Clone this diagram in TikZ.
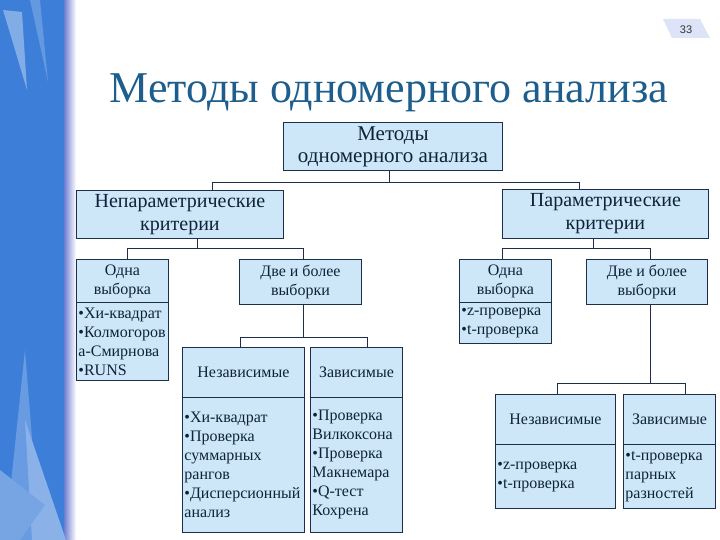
\documentclass[tikz,border=0pt]{standalone}
\usepackage{fontspec}
\setmainfont{Liberation Serif}
\newfontfamily\numfont{Liberation Sans}
\definecolor{boxc}{HTML}{CDE7F8}
\definecolor{linec}{HTML}{1C2E48}
\definecolor{textc}{HTML}{10223A}
\definecolor{titlec}{HTML}{1E5E8C}
\definecolor{bandc}{HTML}{3D7FD8}
\definecolor{bandedge}{HTML}{6E7ED2}
\definecolor{pagec}{HTML}{DDE4F7}
\tikzset{
  box/.style={draw=linec, fill=boxc, line width=0.9pt, inner sep=0pt, text=textc,
    align=center, anchor=north west, font=\fontsize{16}{19}\selectfont},
  bigbox/.style={box, font=\fontsize{20}{23}\selectfont},
  listbox/.style={box, align=left, inner xsep=2pt},
  conn/.style={draw=linec, line width=0.9pt}
}
\begin{document}
\begin{tikzpicture}[x=1pt,y=-1pt]
\useasboundingbox (0,0) rectangle (720,540);
\fill[white] (0,0) rectangle (720,540);
% left decorative band
\fill[bandc] (0,0) rectangle (64,540);
\shade[left color=bandedge, right color=white] (64,0) rectangle (76,540);
\fill[white!35!bandc] (3,10) -- (22,12) -- (27,90) -- cycle;
\fill[white!20!bandc] (30,0) -- (40,0) -- (48,82) -- cycle;
\fill[white!22!bandc] (25,350) -- (40,540) -- (5,540) -- cycle;
\fill[white!40!bandc] (25,420) -- (66,540) -- (32,540) -- cycle;
\fill[white!30!bandc] (0,470) -- (45,505) -- (20,540) -- (0,540) -- cycle;
% page number
\fill[pagec] (663,19) -- (700,19) -- (710,38) -- (672,38) -- cycle;
\node[font=\numfont\fontsize{11}{13}\selectfont, text=black!80] (pnum) at (686,30) {33};
% title
\node[font=\fontsize{44}{50}\selectfont, text=titlec, anchor=base] (title) at (389,103) {Методы одномерного анализа};
% boxes
\node[box, font=\fontsize{21}{22}\selectfont, minimum width=219, minimum height=48] (top) at (283,122) {Методы\\одномерного анализа};
\node[bigbox, minimum width=207, minimum height=48] (np) at (76,190) {Непараметрические\\критерии};
\node[bigbox, minimum width=206, minimum height=49] (pp) at (502,189) {Параметрические\\критерии};
\node[box, minimum width=92, minimum height=43] (l1h) at (76,259) {Одна\\выборка};
\node[listbox, text width=88, minimum height=78] (l1l) at (76,302) {•Хи-квадрат\\•Колмогоров\\а-Смирнова\\•RUNS};
\node[box, minimum width=122, minimum height=45] (l2) at (239,259) {Две и более\\выборки};
\node[box, minimum width=122, minimum height=50] (l3h) at (182,347) {Независимые};
\node[listbox, text width=118, minimum height=135] (l3l) at (182,397) {•Хи-квадрат\\•Проверка\\суммарных\\рангов\\•Дисперсионный\\анализ};
\node[box, minimum width=92, minimum height=50] (l4h) at (310,347) {Зависимые};
\node[listbox, text width=88, minimum height=135] (l4l) at (310,397) {•Проверка\\Вилкоксона\\•Проверка\\Макнемара\\•Q-тест\\Кохрена};
\node[box, minimum width=92, minimum height=43] (r1h) at (459,259) {Одна\\выборка};
\node[listbox, text width=88, minimum height=41] (r1l) at (459,302) {•z-проверка\\•t-проверка};
\node[box, minimum width=121, minimum height=45] (r2) at (586,259) {Две и более\\выборки};
\node[box, minimum width=120, minimum height=50] (r3h) at (495,394) {Независимые};
\node[listbox, text width=116, minimum height=64] (r3l) at (495,444) {•z-проверка\\•t-проверка};
\node[box, minimum width=92, minimum height=50] (r4h) at (623,394) {Зависимые};
\node[listbox, text width=88, minimum height=64] (r4l) at (623,444) {•t-проверка\\парных\\разностей};
% connectors
\coordinate (j0) at (389,182); \coordinate (jA) at (212,182); \coordinate (jB) at (579,182);
\draw[conn] (top.south -| j0) -- (j0);
\draw[conn] (jA) -- (jB);
\draw[conn] (jA) -- (jA |- np.north);
\draw[conn] (jB) -- (jB |- pp.north);
\coordinate (k0) at (197,248); \coordinate (kA) at (127,248); \coordinate (kB) at (303,248);
\draw[conn] (np.south -| k0) -- (k0);
\draw[conn] (kA) -- (kB);
\draw[conn] (kA) -- (kA |- l1h.north);
\draw[conn] (kB) -- (kB |- l2.north);
\coordinate (m0) at (303,337); \coordinate (mA) at (240,337); \coordinate (mB) at (367,337);
\draw[conn] (l2.south -| m0) -- (m0);
\draw[conn] (mA) -- (mB);
\draw[conn] (mA) -- (mA |- l3h.north);
\draw[conn] (mB) -- (mB |- l4h.north);
\coordinate (n0) at (593,248); \coordinate (nA) at (502,248); \coordinate (nB) at (650,248);
\draw[conn] (pp.south -| n0) -- (n0);
\draw[conn] (nA) -- (nB);
\draw[conn] (nA) -- (nA |- r1h.north);
\draw[conn] (nB) -- (nB |- r2.north);
\coordinate (p0) at (650,383); \coordinate (pA) at (557,383); \coordinate (pB) at (685,383);
\draw[conn] (r2.south -| p0) -- (p0);
\draw[conn] (pA) -- (pB);
\draw[conn] (pA) -- (pA |- r3h.north);
\draw[conn] (pB) -- (pB |- r4h.north);
\end{tikzpicture}
\end{document}
